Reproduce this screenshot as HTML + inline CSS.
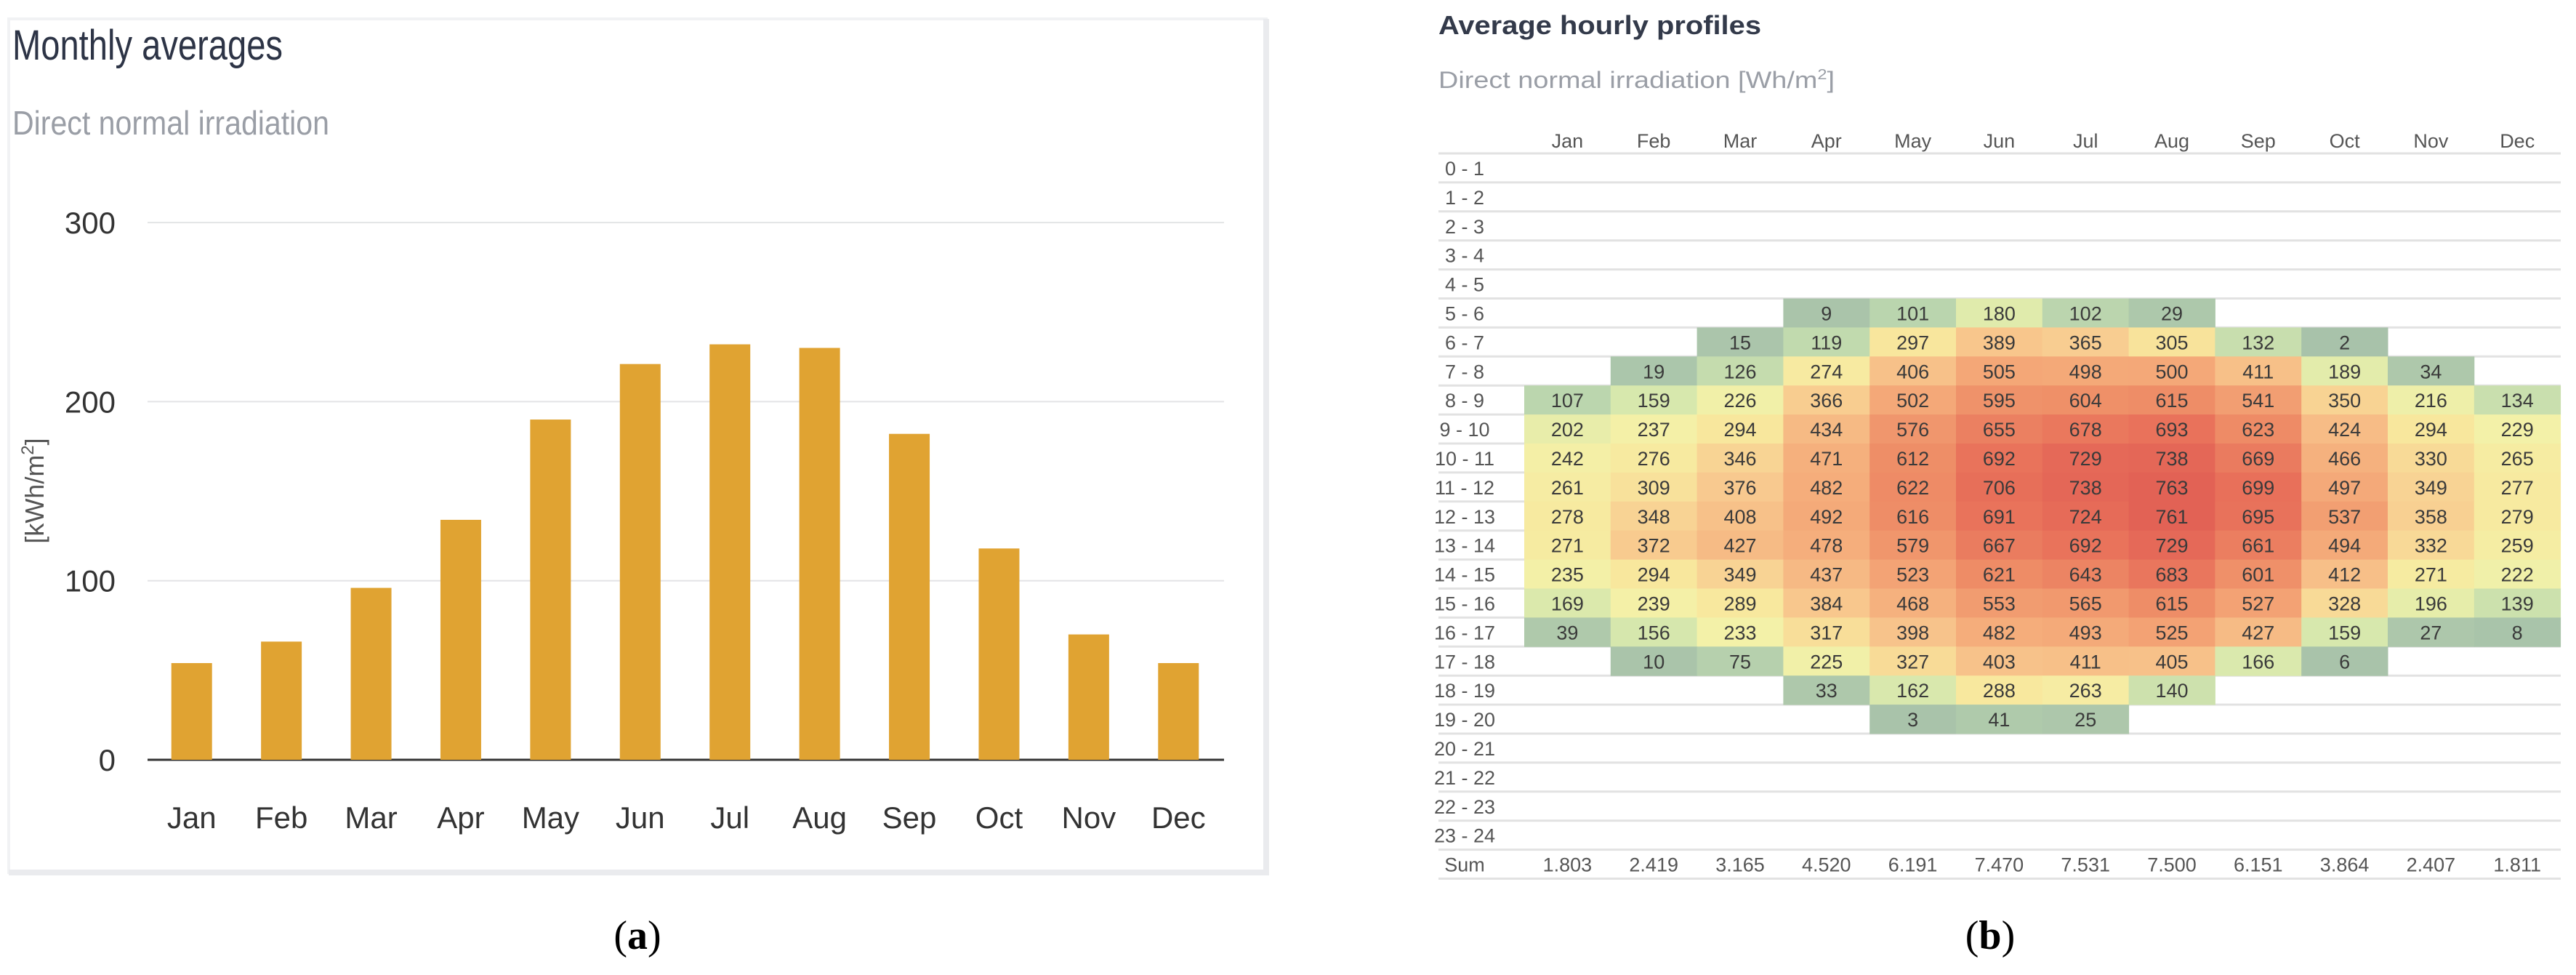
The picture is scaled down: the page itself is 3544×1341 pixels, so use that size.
<!DOCTYPE html>
<html><head><meta charset="utf-8"><style>
html,body{margin:0;padding:0;background:#fff;}
svg{display:block;font-family:"Liberation Sans",sans-serif;}
</style></head><body>
<svg id="root" width="3544" height="1341" viewBox="0 0 3544 1341" xmlns="http://www.w3.org/2000/svg">
<g id="panel-a">
  <rect x="12" y="26" width="1730" height="1174" fill="#fff" stroke="#f1f2f4" stroke-width="4"/>
  <line x1="1742" y1="26" x2="1742" y2="1200" stroke="#eaebee" stroke-width="8"/>
  <line x1="12" y1="1200" x2="1746" y2="1200" stroke="#eaebee" stroke-width="8"/>
  <text x="17" y="82" font-size="58" fill="#2d3446" textLength="372" lengthAdjust="spacingAndGlyphs">Monthly averages</text>
  <text x="17" y="185" font-size="46" fill="#9a9ea6" textLength="436" lengthAdjust="spacingAndGlyphs">Direct normal irradiation</text>
  <g id="a-grid"></g>
  <g id="a-bars"></g>
  <g id="a-xlabels"></g>
  <text transform="translate(60,675) rotate(-90)" text-anchor="middle" font-size="36" fill="#555">[kWh/m<tspan font-size="24" dy="-14">2</tspan><tspan dy="14">]</tspan></text>
</g>
<text x="877" y="1305" text-anchor="middle" font-family="Liberation Serif, serif" font-size="56" fill="#000">(<tspan font-weight="bold">a</tspan>)</text>

<g id="panel-b">
  <text x="1979" y="47" font-size="36" font-weight="bold" fill="#333a4a" textLength="444" lengthAdjust="spacingAndGlyphs">Average hourly profiles</text>
  <text x="1979" y="121" font-size="32" fill="#9a9ea6" textLength="545" lengthAdjust="spacingAndGlyphs">Direct normal irradiation [Wh/m<tspan font-size="20" dy="-12">2</tspan><tspan dy="12">]</tspan></text>
  <g id="b-lines"></g>
  <g id="b-cells"></g>
  <g id="b-text"></g>
</g>
<text x="2738" y="1305" text-anchor="middle" font-family="Liberation Serif, serif" font-size="56" fill="#000">(<tspan font-weight="bold">b</tspan>)</text>
</svg>
<script>
const months = ["Jan","Feb","Mar","Apr","May","Jun","Jul","Aug","Sep","Oct","Nov","Dec"];
const monthlyValues = [54,66,96,134,190,221,232,230,182,118,70,54];
const yTicks = [0,100,200,300];

const hourLabels = ["0 - 1","1 - 2","2 - 3","3 - 4","4 - 5","5 - 6","6 - 7","7 - 8","8 - 9","9 - 10","10 - 11","11 - 12","12 - 13","13 - 14","14 - 15","15 - 16","16 - 17","17 - 18","18 - 19","19 - 20","20 - 21","21 - 22","22 - 23","23 - 24"];
const N = null;
const hourlyValues = [
 [N,N,N,N,N,N,N,N,N,N,N,N],
 [N,N,N,N,N,N,N,N,N,N,N,N],
 [N,N,N,N,N,N,N,N,N,N,N,N],
 [N,N,N,N,N,N,N,N,N,N,N,N],
 [N,N,N,N,N,N,N,N,N,N,N,N],
 [N,N,N,9,101,180,102,29,N,N,N,N],
 [N,N,15,119,297,389,365,305,132,2,N,N],
 [N,19,126,274,406,505,498,500,411,189,34,N],
 [107,159,226,366,502,595,604,615,541,350,216,134],
 [202,237,294,434,576,655,678,693,623,424,294,229],
 [242,276,346,471,612,692,729,738,669,466,330,265],
 [261,309,376,482,622,706,738,763,699,497,349,277],
 [278,348,408,492,616,691,724,761,695,537,358,279],
 [271,372,427,478,579,667,692,729,661,494,332,259],
 [235,294,349,437,523,621,643,683,601,412,271,222],
 [169,239,289,384,468,553,565,615,527,328,196,139],
 [39,156,233,317,398,482,493,525,427,159,27,8],
 [N,10,75,225,327,403,411,405,166,6,N,N],
 [N,N,N,33,162,288,263,140,N,N,N,N],
 [N,N,N,N,3,41,25,N,N,N,N,N],
 [N,N,N,N,N,N,N,N,N,N,N,N],
 [N,N,N,N,N,N,N,N,N,N,N,N],
 [N,N,N,N,N,N,N,N,N,N,N,N],
 [N,N,N,N,N,N,N,N,N,N,N,N]
];
const sumLabels = ["1.803","2.419","3.165","4.520","6.191","7.470","7.531","7.500","6.151","3.864","2.407","1.811"];

const NS = "http://www.w3.org/2000/svg";
function mk(tag, attrs, parent, txt){
  const e = document.createElementNS(NS, tag);
  for (const k in attrs) e.setAttribute(k, attrs[k]);
  if (txt !== undefined) e.textContent = txt;
  parent.appendChild(e);
  return e;
}

// ---- Panel A ----
const plotL = 203, plotR = 1684, y0 = 1045, pxPer = 2.463;
const yScale = v => y0 - v * pxPer;
const step = (plotR - plotL) / months.length;
const xCenter = i => plotL + step * (i + 0.5) - 1;
const gGrid = document.getElementById('a-grid');
yTicks.forEach(t => {
  const l = mk('line', {x1: plotL, x2: plotR, y1: yScale(t), y2: yScale(t), stroke: t === 0 ? '#333' : '#e3e4e6', 'stroke-width': t === 0 ? 3 : 2}, gGrid);
  
  
  const tx = mk('text', {x: 159, y: yScale(t) + 15, 'text-anchor': 'end', 'font-size': 42, fill: '#333'}, gGrid, String(t));
  
  
});
const gBars = document.getElementById('a-bars');
const gXl = document.getElementById('a-xlabels');
monthlyValues.forEach((v, i) => {
  const bw = 56;
  const r = mk('rect', {x: xCenter(i) - bw / 2, y: yScale(v), width: bw, height: y0 - yScale(v), fill: '#e0a332'}, gBars);
  
  
  const t = mk('text', {x: xCenter(i), y: 1139, 'text-anchor': 'middle', 'font-size': 42, fill: '#333'}, gXl, months[i]);
  
  
});

// ---- Panel B ----
const tL = 1979, cL = 2097, cW = 118.8, hdrY = 211, rowH = 39.9;
const colX = j => cL + j * cW;
const rowY = r => hdrY + r * rowH;
const stops = [[0,[168,194,170]],[110,[188,215,174]],[160,[216,232,173]],[230,[243,241,168]],[290,[248,232,158]],[380,[248,200,142]],[500,[244,168,120]],[620,[238,140,102]],[700,[232,112,90]],[770,[225,96,84]]];
function colorFor(v){
  for (let i = 1; i < stops.length; i++){
    if (v <= stops[i][0]){
      const a = stops[i-1], b = stops[i], f = (v - a[0]) / (b[0] - a[0]);
      const c = a[1].map((x, k) => Math.round(x + (b[1][k] - x) * f));
      return 'rgb(' + c.join(',') + ')';
    }
  }
  return 'rgb(' + stops[stops.length-1][1].join(',') + ')';
}
const gL = document.getElementById('b-lines');
const gC = document.getElementById('b-cells');
const gT = document.getElementById('b-text');
months.forEach((m, j) => {
  const t = mk('text', {x: colX(j) + cW / 2, y: 203, 'text-anchor': 'middle', 'font-size': 27, fill: '#555'}, gT, m);
  
  
});
for (let r = 0; r <= hourLabels.length + 1; r++){
  const l = mk('line', {x1: tL, x2: 3523, y1: rowY(r), y2: rowY(r), stroke: '#e2e2e2', 'stroke-width': 3}, gL);
  
  
}
hourLabels.forEach((h, r) => {
  const t = mk('text', {x: 2015, y: rowY(r) + 30, 'text-anchor': 'middle', 'font-size': 27, fill: '#555'}, gT, h);
  
  
  hourlyValues[r].forEach((v, j) => {
    if (v === null) return;
    const c = mk('rect', {x: colX(j), y: rowY(r), width: cW + 0.5, height: rowH + 0.5, fill: colorFor(v)}, gC);
    
    
    const t2 = mk('text', {x: colX(j) + cW / 2, y: rowY(r) + 30, 'text-anchor': 'middle', 'font-size': 27, fill: '#3a3a3a'}, gT, String(v));
    
    
  });
});
const sr = hourLabels.length;
const sl = mk('text', {x: 2015, y: rowY(sr) + 30, 'text-anchor': 'middle', 'font-size': 27, fill: '#555'}, gT, 'Sum');


sumLabels.forEach((s, j) => {
  const t = mk('text', {x: colX(j) + cW / 2, y: rowY(sr) + 30, 'text-anchor': 'middle', 'font-size': 27, fill: '#555'}, gT, s);
  
  
});
</script>
</body></html>
